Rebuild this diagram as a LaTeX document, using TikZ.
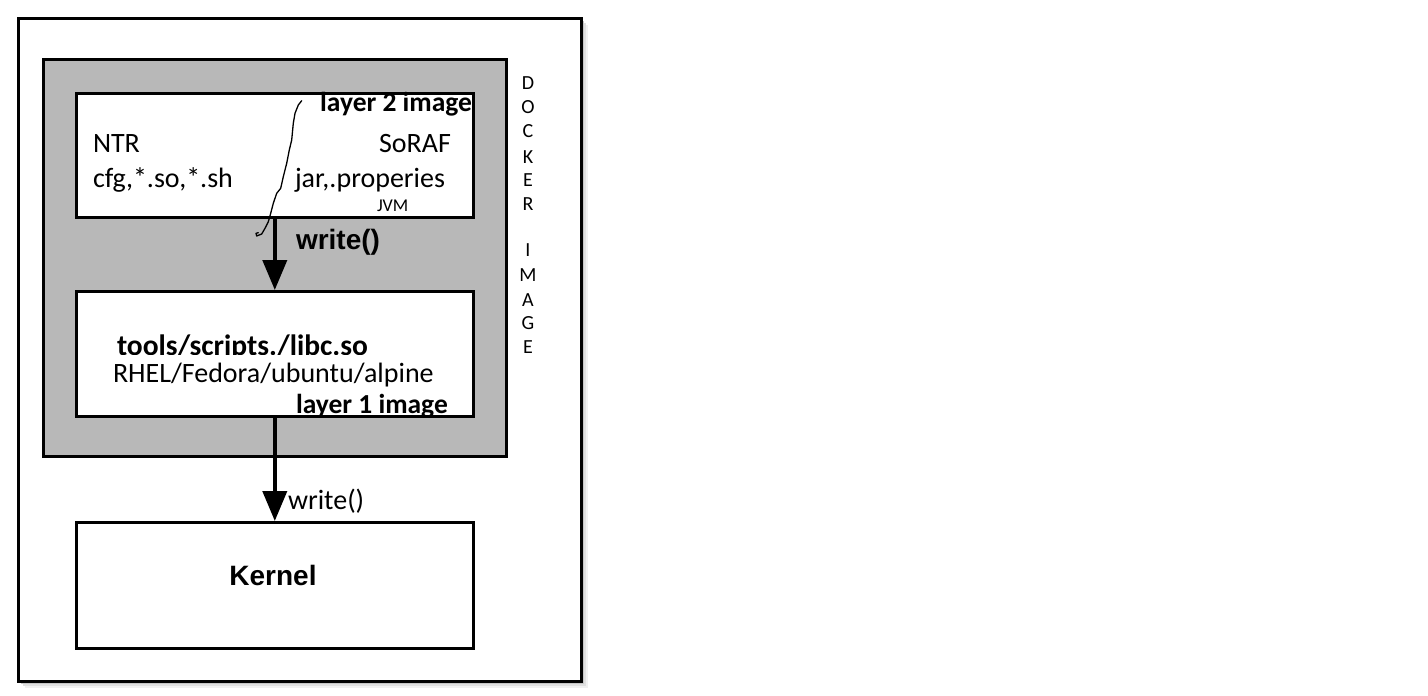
\documentclass[tikz,border=0pt]{standalone}
\usepackage{fontspec}
\setmainfont{Carlito}
\newfontfamily\arialf{Liberation Sans}
\usetikzlibrary{arrows.meta}
\definecolor{boxgray}{HTML}{B8B8B8}
\tikzset{
  frame/.style={draw=black,line width=3pt},
  inner/.style={draw=black,line width=2.6pt,fill=white},
  txt/.style={inner sep=0pt,outer sep=0pt,font=\fontsize{28}{30}\selectfont},
  btxt/.style={txt,font=\fontsize{27.5}{30}\selectfont\bfseries},
  atxt/.style={inner sep=0pt,outer sep=0pt,font=\arialf\fontsize{28}{30}\selectfont\bfseries},
  small/.style={inner sep=0pt,outer sep=0pt,font=\fontsize{18}{20}\selectfont},
  vlet/.style={inner sep=0pt,outer sep=0pt,font=\fontsize{20}{22}\selectfont},
  bigarrow/.style={line width=4pt,-{Triangle[width=24pt,length=30pt]}},
}
\begin{document}
\begin{tikzpicture}[x=1pt,y=-1pt]
\useasboundingbox (0,0) rectangle (1428,696);
% shadow of outer frame
\foreach \d/\c in {8/gray!12,6/gray!25,4/gray!45,2.5/gray!70}{
  \fill[\c] (17+\d,17+\d) rectangle (580+\d,680+\d);
}
\node[frame,fill=white,minimum width=563pt,minimum height=663pt,anchor=north west,inner sep=0pt] (outer) at (17,17) {};
% docker image gray box
\node[draw=black,line width=2.6pt,fill=boxgray,minimum width=463pt,minimum height=397pt,anchor=north west,inner sep=0pt] (docker) at (42,58) {};
% layer boxes
\node[inner,minimum width=397pt,minimum height=124pt,anchor=north west,inner sep=0pt] (layer2) at (75,92) {};
\node[inner,minimum width=397pt,minimum height=125pt,anchor=north west,inner sep=0pt] (layer1) at (75,290) {};
\node[inner,minimum width=397pt,minimum height=126pt,anchor=north west,inner sep=0pt] (kernel) at (75,521) {};
% arrows
\draw[bigarrow] (layer2.south) -- (layer1.north);
\draw[bigarrow] (layer1.south) -- (kernel.north);
% layer 2 texts
\node[btxt,anchor=base east] (l2) at (472,111) {layer 2 image};
\node[txt,anchor=base west] (ntr) at (93,152) {NTR};
\node[txt,anchor=base east] (soraf) at (451,152) {SoRAF};
\node[txt,anchor=base west] (cfg) at (93,187) {cfg,*.so,*.sh};
\node[txt,anchor=base west] (jar) at (295,187) {jar,.properies};
\node[small,anchor=base west] (jvm) at (377,211) {JVM};
% write labels
\node[atxt,anchor=base west] (w1) at (296,249) {write()};
\node[txt,anchor=base west] (w2) at (288,509) {write()};
% layer 1 texts
\begin{scope}
\clip (80,300) rectangle (470,354);
\node[btxt,font=\fontsize{29.5}{32}\selectfont\bfseries,anchor=base west] (tools) at (117,355) {tools/scripts./libc.so};
\end{scope}
\node[txt,anchor=base west] (rhel) at (113,382) {RHEL/Fedora/ubuntu/alpine};
\node[btxt,anchor=base west] (l1) at (296,413) {layer 1 image};
% kernel
\node[atxt,anchor=base] (kern) at (273,585) {Kernel};
% vertical docker image label
\foreach \ch/\yy [count=\i] in {D/82.7,O/106.7,C/131,K/156.7,E/180,R/204,I/250,M/275,A/300,G/323,E/347}{
  \node[vlet] (dk\i) at (528,\yy) {\ch};
}
% hand-drawn squiggle
\draw[line width=1.3pt,line join=round,line cap=round]
  (301.7,100.7) -- (298.3,105) -- (295,113.3) -- (293.3,123.3) -- (291.7,140)
  -- (289.3,150) -- (286.7,163.3) -- (283.3,176.7) -- (280.7,188.3) -- (276.7,193.3)
  -- (273.3,203.3) -- (270.7,213.3) -- (268.3,221.7) -- (265,228.3) -- (261.7,234)
  -- (256.7,236) -- (256,233.3) -- (258.3,232.7);
\end{tikzpicture}
\end{document}
